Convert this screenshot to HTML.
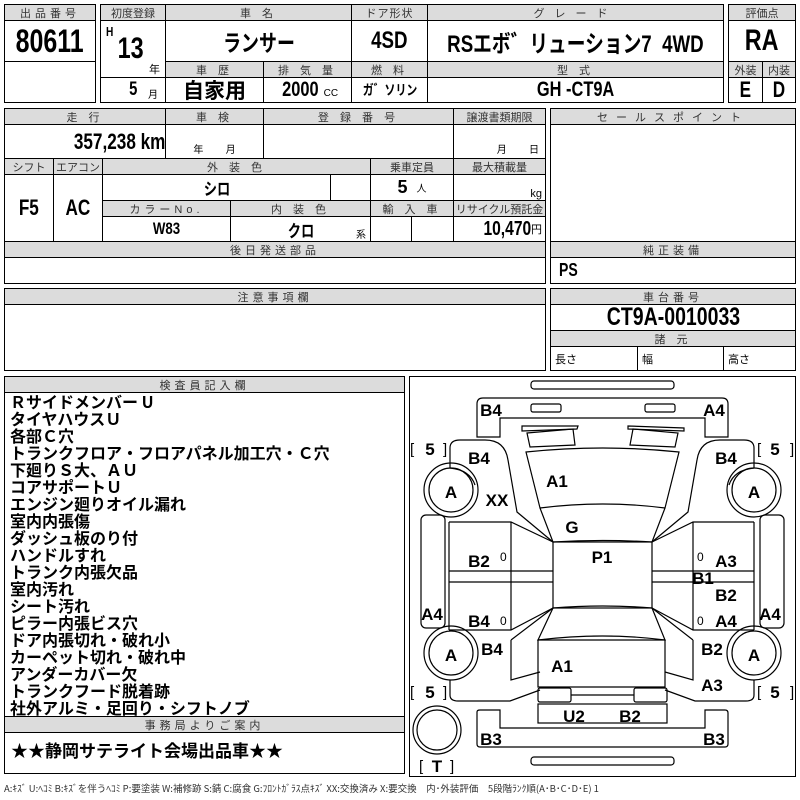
<!DOCTYPE html>
<html><head><meta charset="utf-8"><style>
*{margin:0;padding:0;box-sizing:border-box}
body{width:800px;height:800px;background:#fff;position:relative;overflow:hidden;font-family:"Liberation Sans","Noto Sans CJK JP",sans-serif;color:#000}
.c{position:absolute;border:1px solid #000;display:flex;align-items:center;justify-content:center;white-space:nowrap;overflow:hidden}
.h{background:#dcdcdc;font-size:11px;letter-spacing:4px;color:#333}
.b{font-family:"Liberation Sans","Noto Sans CJK JP",sans-serif;font-weight:bold}
.n{display:inline-block;transform:scaleX(.78)}
.t{position:absolute;white-space:nowrap}
.ins{position:absolute;left:10px;font-weight:bold;font-size:16px;line-height:17px;font-family:"Noto Sans CJK JP",sans-serif}
</style></head><body>
<!-- box1 -->
<div class="c h" style="left:4px;top:4px;width:92px;height:17px">出品番号</div>
<div class="c b" style="left:4px;top:20px;width:92px;height:42px;font-size:32px"><span class="n">80611</span></div>
<div class="c" style="left:4px;top:61px;width:92px;height:42px"></div>
<!-- box2 -->
<div class="c h" style="left:100px;top:4px;width:66px;height:17px;letter-spacing:0">初度登録</div>
<div class="c h" style="left:165px;top:4px;width:187px;height:17px">車 名</div>
<div class="c h" style="left:351px;top:4px;width:77px;height:17px;letter-spacing:1px">ドア形状</div>
<div class="c h" style="left:427px;top:4px;width:297px;height:17px;letter-spacing:10px">グレード</div>
<div class="c" style="left:100px;top:20px;width:66px;height:58px"></div>
<div class="t b" style="left:105px;top:24px;font-size:13px"><span class="n">H</span></div>
<div class="t b" style="left:114px;top:32px;font-size:30px"><span class="n">13</span></div>
<div class="t" style="left:149px;top:61px;font-size:11px">年</div>
<div class="c" style="left:100px;top:77px;width:66px;height:26px"></div>
<div class="t b" style="left:128px;top:79px;font-size:19px"><span class="n">5</span></div>
<div class="t" style="left:148px;top:86px;font-size:10px">月</div>
<div class="c b" style="left:165px;top:20px;width:187px;height:42px;font-size:23px"><span class="n">ランサー</span></div>
<div class="c b" style="left:351px;top:20px;width:77px;height:42px;font-size:24px"><span class="n">4SD</span></div>
<div class="c b" style="left:427px;top:20px;width:297px;height:42px;font-size:24px"><span class="n">RSエボ゛リューション7&nbsp;&nbsp;4WD</span></div>
<div class="c h" style="left:165px;top:61px;width:99px;height:17px">車 歴</div>
<div class="c h" style="left:263px;top:61px;width:89px;height:17px">排 気 量</div>
<div class="c h" style="left:351px;top:61px;width:77px;height:17px">燃 料</div>
<div class="c h" style="left:427px;top:61px;width:297px;height:17px">型 式</div>
<div class="c" style="left:165px;top:77px;width:99px;height:26px;font-size:21px;font-weight:bold;font-family:'Noto Sans CJK JP',sans-serif">自家用</div>
<div class="c" style="left:263px;top:77px;width:89px;height:26px"><span class="b n" style="font-size:21px">2000</span><span style="font-size:10px;margin-top:6px">CC</span></div>
<div class="c b" style="left:351px;top:77px;width:77px;height:26px;font-size:14px"><span class="n">ガ゛ソリン</span></div>
<div class="c b" style="left:427px;top:77px;width:297px;height:26px;font-size:21px"><span class="n">GH -CT9A</span></div>
<!-- box3 -->
<div class="c h" style="left:728px;top:4px;width:68px;height:17px;letter-spacing:0">評価点</div>
<div class="c b" style="left:728px;top:20px;width:68px;height:42px;font-size:30px"><span class="n">RA</span></div>
<div class="c h" style="left:728px;top:61px;width:35px;height:17px;letter-spacing:0">外装</div>
<div class="c h" style="left:762px;top:61px;width:34px;height:17px;letter-spacing:0">内装</div>
<div class="c b" style="left:728px;top:77px;width:35px;height:26px;font-size:22px"><span class="n">E</span></div>
<div class="c b" style="left:762px;top:77px;width:34px;height:26px;font-size:22px"><span class="n">D</span></div>
<!-- block 2 -->
<div class="c h" style="left:4px;top:108px;width:162px;height:17px">走 行</div>
<div class="c h" style="left:165px;top:108px;width:99px;height:17px">車 検</div>
<div class="c h" style="left:263px;top:108px;width:191px;height:17px">登 録 番 号</div>
<div class="c h" style="left:453px;top:108px;width:93px;height:17px;letter-spacing:0">譲渡書類期限</div>
<div class="c" style="left:4px;top:124px;width:162px;height:35px;justify-content:flex-end;padding-right:0px"><span class="b n" style="font-size:22px;transform-origin:right">357,238 km</span></div>
<div class="c" style="left:165px;top:124px;width:99px;height:35px;font-size:10px;align-items:flex-end;padding-bottom:2px">年&nbsp;&nbsp;&nbsp;&nbsp;&nbsp;&nbsp;&nbsp;&nbsp;月</div>
<div class="c" style="left:263px;top:124px;width:191px;height:35px"></div>
<div class="c" style="left:453px;top:124px;width:93px;height:35px;font-size:10px;align-items:flex-end;padding-bottom:2px;justify-content:flex-end;padding-right:6px">月&nbsp;&nbsp;&nbsp;&nbsp;&nbsp;&nbsp;&nbsp;&nbsp;日</div>
<div class="c h" style="left:4px;top:158px;width:50px;height:17px;letter-spacing:0">シフト</div>
<div class="c h" style="left:53px;top:158px;width:50px;height:17px;letter-spacing:0">エアコン</div>
<div class="c h" style="left:102px;top:158px;width:269px;height:17px">外 装 色</div>
<div class="c h" style="left:370px;top:158px;width:84px;height:17px;letter-spacing:0">乗車定員</div>
<div class="c h" style="left:453px;top:158px;width:93px;height:17px;letter-spacing:0">最大積載量</div>
<div class="c b" style="left:4px;top:174px;width:50px;height:68px;font-size:22px"><span class="n">F5</span></div>
<div class="c b" style="left:53px;top:174px;width:50px;height:68px;font-size:22px"><span class="n">AC</span></div>
<div class="c b" style="left:102px;top:174px;width:229px;height:27px;font-size:17px"><span class="n">シロ</span></div>
<div class="c" style="left:330px;top:174px;width:41px;height:27px"></div>
<div class="c" style="left:370px;top:174px;width:84px;height:27px"><span class="b" style="font-size:18px">5</span>&nbsp;&nbsp;<span style="font-size:10px">人</span></div>
<div class="c" style="left:453px;top:174px;width:93px;height:27px;justify-content:flex-end;padding-right:3px;font-size:11px;align-items:flex-end">kg</div>
<div class="c h" style="left:102px;top:200px;width:129px;height:17px">カラーNo.</div>
<div class="c h" style="left:230px;top:200px;width:141px;height:17px">内 装 色</div>
<div class="c h" style="left:370px;top:200px;width:84px;height:17px">輸 入 車</div>
<div class="c h" style="left:453px;top:200px;width:93px;height:17px;letter-spacing:0">リサイクル預託金</div>
<div class="c b" style="left:102px;top:216px;width:129px;height:26px;font-size:17px"><span class="n">W83</span></div>
<div class="c b" style="left:230px;top:216px;width:141px;height:26px;font-size:17px"><span class="n">クロ</span></div>
<div class="t" style="left:356px;top:226px;font-size:10px">系</div>
<div class="c" style="left:370px;top:216px;width:42px;height:26px"></div>
<div class="c" style="left:411px;top:216px;width:43px;height:26px"></div>
<div class="c" style="left:453px;top:216px;width:93px;height:26px;justify-content:flex-end;padding-right:3px"><span class="b n" style="font-size:20px;transform-origin:right">10,470</span><span style="font-size:11px">円</span></div>
<div class="c h" style="left:4px;top:241px;width:542px;height:17px">後日発送部品</div>
<div class="c" style="left:4px;top:257px;width:542px;height:27px"></div>
<div class="c h" style="left:550px;top:108px;width:246px;height:17px;letter-spacing:8px">セールスポイント</div>
<div class="c" style="left:550px;top:124px;width:246px;height:118px"></div>
<div class="c h" style="left:550px;top:241px;width:246px;height:17px">純正装備</div>
<div class="c b" style="left:550px;top:257px;width:246px;height:27px;justify-content:flex-start;padding-left:8px;font-size:18px"><span class="n" style="transform-origin:left">PS</span></div>
<!-- block 3 -->
<div class="c h" style="left:4px;top:288px;width:542px;height:17px">注意事項欄</div>
<div class="c" style="left:4px;top:304px;width:542px;height:67px"></div>
<div class="c h" style="left:550px;top:288px;width:246px;height:17px">車台番号</div>
<div class="c b" style="left:550px;top:304px;width:246px;height:27px;font-size:25px"><span class="n">CT9A-0010033</span></div>
<div class="c h" style="left:550px;top:330px;width:246px;height:17px">諸 元</div>
<div class="c" style="left:550px;top:346px;width:88px;height:25px;justify-content:flex-start;padding-left:4px;font-size:11px">長さ</div>
<div class="c" style="left:637px;top:346px;width:87px;height:25px;justify-content:flex-start;padding-left:4px;font-size:11px">幅</div>
<div class="c" style="left:723px;top:346px;width:73px;height:25px;justify-content:flex-start;padding-left:4px;font-size:11px">高さ</div>
<!-- inspector -->
<div class="c h" style="left:4px;top:376px;width:401px;height:17px">検査員記入欄</div>
<div class="c" style="left:4px;top:392px;width:401px;height:325px"></div>
<div class="ins" style="top:393px">Ｒサイドメンバー U<br>タイヤハウスＵ<br>各部Ｃ穴<br>トランクフロア・フロアパネル加工穴・Ｃ穴<br>下廻りＳ大、ＡＵ<br>コアサポートＵ<br>エンジン廻りオイル漏れ<br>室内内張傷<br>ダッシュ板のり付<br>ハンドルすれ<br>トランク内張欠品<br>室内汚れ<br>シート汚れ<br>ピラー内張ビス穴<br>ドア内張切れ・破れ小<br>カーペット切れ・破れ中<br>アンダーカバー欠<br>トランクフード脱着跡<br>社外アルミ・足回り・シフトノブ</div>
<div class="c h" style="left:4px;top:716px;width:401px;height:17px">事務局よりご案内</div>
<div class="c" style="left:4px;top:732px;width:401px;height:42px;align-items:flex-start;justify-content:flex-start;padding:4px 0 0 6px;font-weight:bold;font-size:17px;font-family:'Noto Sans CJK JP',sans-serif">★★静岡サテライト会場出品車★★</div>
<div class="t" style="left:4px;top:781px;font-size:9.5px;color:#333;font-family:'Noto Sans CJK JP',sans-serif">A:ｷｽﾞ U:ﾍｺﾐ B:ｷｽﾞを伴うﾍｺﾐ P:要塗装 W:補修跡 S:錆 C:腐食 G:ﾌﾛﾝﾄｶﾞﾗｽ点ｷｽﾞ XX:交換済み X:要交換　内･外装評価　5段階ﾗﾝｸ順(A･B･C･D･E) 1</div>
<!-- diagram -->
<div class="c" style="left:409px;top:376px;width:387px;height:401px"></div>
<svg style="position:absolute;left:0;top:0" width="800" height="800" fill="none" stroke="#000" stroke-width="1.2">
<rect x="531" y="381" width="143" height="8" rx="3"/>
<rect x="531" y="404" width="30" height="8" rx="2"/><rect x="645" y="404" width="30" height="8" rx="2"/>
<path d="M483,398 H722 Q728,398 728,404 V437 H705 V418 H500 V437 H477 V404 Q477,398 483,398Z"/>
<path d="M522,426 L578,426 L577,429 L522,431Z"/><path d="M628,426 L684,428 L684,431 L628,429Z"/>
<path d="M527,433 L573,429 L575,445 L530,447Z"/><path d="M633,429 L678,433 L675,447 L630,445Z"/>
<path d="M526,452 Q603,444 679,452 L665,508 Q603,500 540,508Z"/>
<path d="M540,508 L553,542 Q603,539 652,542 L665,508"/>
<rect x="553" y="542" width="99" height="66"/>
<path d="M553,608 Q603,604 652,608 L665,640 Q603,632 538,640Z"/>
<path d="M538,640 H665 V687 H538Z"/>
<rect x="538" y="688" width="33" height="14" rx="2"/><rect x="634" y="688" width="33" height="14" rx="2"/>
<path d="M571,695 H634"/>
<rect x="538" y="704" width="129" height="19"/>
<path d="M477,712 Q477,710 480,710 H500 V728 H705 V710 H725 Q728,710 728,713 V744 Q728,747 725,747 H480 Q477,747 477,744Z"/>
<rect x="531" y="757" width="143" height="8" rx="3"/>
<path d="M450,468 V448 Q450,440 460,440 H485 Q505,440 508,460 L517,512 L553,542"/>
<path d="M450,468 Q470,470 475,485"/>
<path d="M449,522 H511 L553,542"/><path d="M449,630 H511 L553,608"/>
<path d="M449,522 V630 M511,522 V630 M449,571 H553 M449,582 H553"/>
<path d="M511,640 L553,608 M511,640 V680 L540,672"/>
<path d="M450,680 V695 Q450,701 458,701 H510 L540,690"/>
<rect x="421" y="515" width="24" height="113" rx="5"/>
<circle cx="451" cy="490" r="27"/><circle cx="451" cy="490" r="22"/>
<circle cx="451" cy="653" r="27"/><circle cx="451" cy="653" r="22"/>
<circle cx="437" cy="730" r="24"/><circle cx="437" cy="730" r="20"/>
<path d="M754,468 V448 Q754,440 744,440 H720 Q700,440 697,460 L688,512 L652,542"/>
<path d="M754,468 Q734,470 729,485"/>
<path d="M754,522 H693 L652,542"/><path d="M754,630 H693 L652,608"/>
<path d="M754,522 V630 M693,522 V630 M754,571 H652 M754,582 H652"/>
<path d="M693,640 L652,608 M693,640 V680 L665,672"/>
<path d="M754,680 V695 Q754,701 746,701 H695 L665,690"/>
<rect x="760" y="515" width="24" height="113" rx="5"/>
<circle cx="754" cy="490" r="27"/><circle cx="754" cy="490" r="22"/>
<circle cx="754" cy="653" r="27"/><circle cx="754" cy="653" r="22"/>
<g fill="#000" stroke="none" font-family="Liberation Sans" font-weight="bold" font-size="17" text-anchor="middle">
<text x="491" y="416">B4</text><text x="714" y="416">A4</text>
<text x="479" y="464">B4</text><text x="726" y="464">B4</text>
<text x="557" y="487">A1</text><text x="451" y="498">A</text><text x="754" y="498">A</text>
<text x="497" y="506">XX</text><text x="572" y="533">G</text>
<text x="479" y="567">B2</text><text x="602" y="563">P1</text><text x="726" y="567">A3</text>
<text x="703" y="584">B1</text><text x="726" y="601">B2</text>
<text x="432" y="620">A4</text><text x="770" y="620">A4</text>
<text x="479" y="627">B4</text><text x="726" y="627">A4</text>
<text x="492" y="655">B4</text><text x="712" y="655">B2</text>
<text x="451" y="661">A</text><text x="754" y="661">A</text>
<text x="562" y="672">A1</text><text x="712" y="691">A3</text>
<text x="574" y="722">U2</text><text x="630" y="722">B2</text>
<text x="491" y="745">B3</text><text x="714" y="745">B3</text>
<text x="437" y="772">T</text>
<text x="430" y="455">5</text><text x="775" y="455">5</text>
<text x="430" y="698">5</text><text x="775" y="698">5</text>
</g>
<g fill="#000" stroke="none" font-family="Liberation Sans" font-size="15">
<text x="410" y="454">[</text><text x="443" y="454">]</text><text x="757" y="454">[</text><text x="790" y="454">]</text>
<text x="410" y="697">[</text><text x="443" y="697">]</text><text x="757" y="697">[</text><text x="790" y="697">]</text>
<text x="419" y="771">[</text><text x="450" y="771">]</text>
<text x="500" y="561" font-size="12">0</text><text x="697" y="561" font-size="12">0</text>
<text x="500" y="625" font-size="12">0</text><text x="697" y="625" font-size="12">0</text>
</g>
</svg>
</body></html>
